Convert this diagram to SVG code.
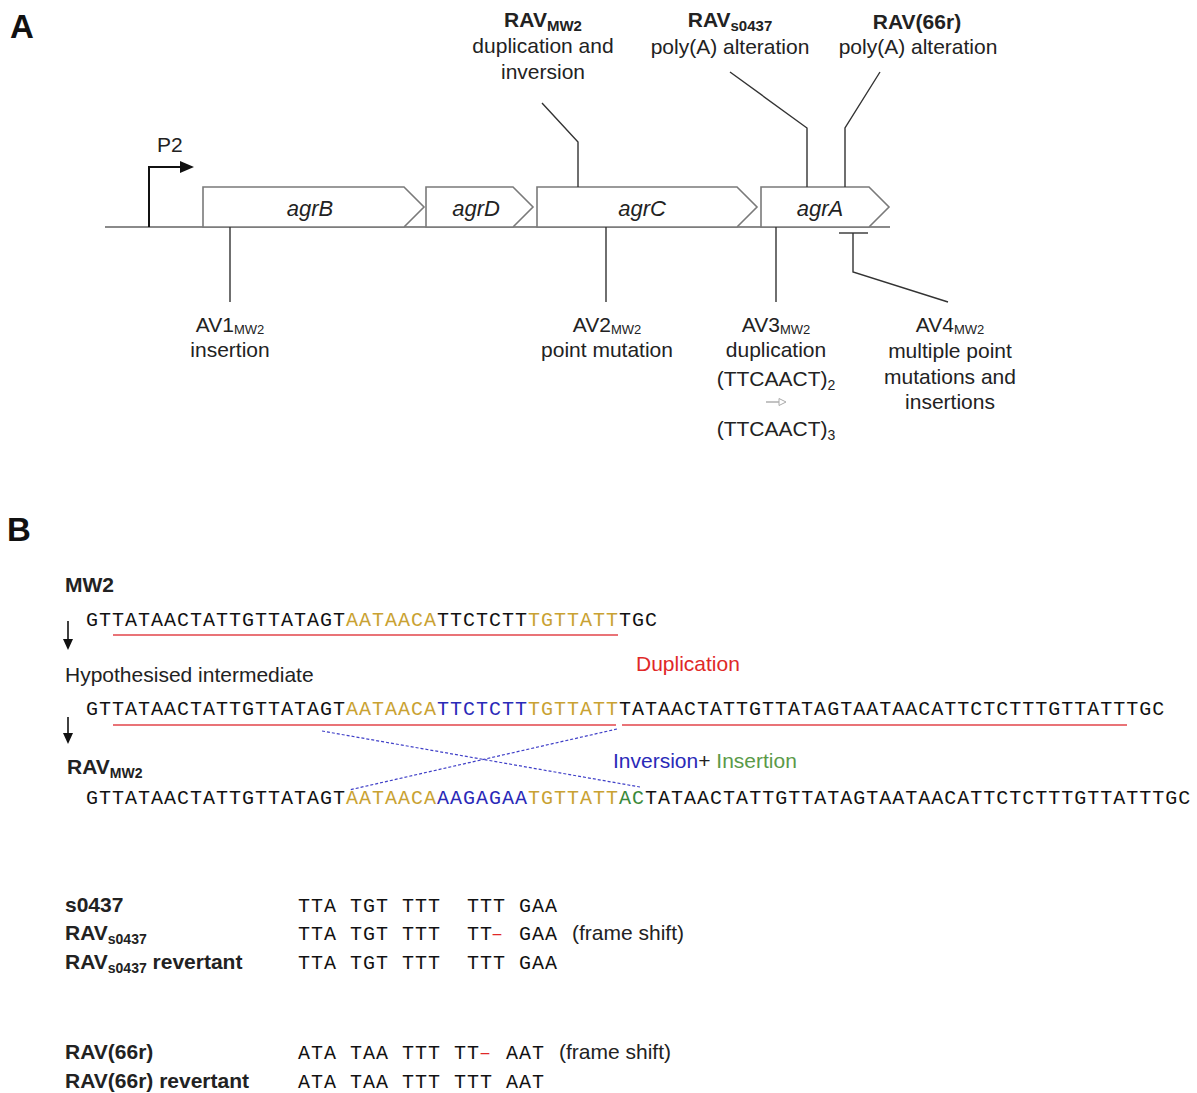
<svg xmlns="http://www.w3.org/2000/svg" width="1197" height="1093" viewBox="0 0 1197 1093">
<defs>
<style>
.sans{font-family:"Liberation Sans",Arial,sans-serif;fill:#222;font-size:21px}
.mid{text-anchor:middle}
.b{font-weight:bold}
.panel{font-family:"Liberation Sans",Arial,sans-serif;font-weight:bold;font-size:33px;fill:#111}
.gene{fill:#fff;stroke:#7a7a7a;stroke-width:1.6}
.gl{font-family:"Liberation Sans",Arial,sans-serif;font-style:italic;font-size:22px;fill:#222;text-anchor:middle}
.seq{font-family:"Liberation Mono","Courier New",monospace;font-size:20px;letter-spacing:1px;fill:#111}
.cod{font-family:"Liberation Mono","Courier New",monospace;font-size:20px;letter-spacing:1px;fill:#111}
.conn{fill:none;stroke:#333;stroke-width:1.4}
.gold{fill:#c9a232}
.blue{fill:#2a2ab8}
.green{fill:#3a8a3a}
.red{fill:#e02828}
.ul{stroke:#e2454a;stroke-width:1.6}
.dot{stroke:#4040c8;stroke-width:1.2;stroke-dasharray:3 2;fill:none}
</style>
</defs>
<rect width="1197" height="1093" fill="#fff"/>

<!-- Panel A -->
<text class="panel" x="10" y="38">A</text>

<g id="backbone"><line x1="105" y1="227" x2="890" y2="227" stroke="#8a8a8a" stroke-width="2"/></g>

<g id="promoter">
<path d="M149,227 V167 H182" fill="none" stroke="#111" stroke-width="2"/>
<polygon points="180,161 194,167 180,173" fill="#111"/>
<text class="sans" x="157" y="152">P2</text>
</g>

<g id="gene-agrB"><polygon class="gene" points="203,187 404,187 424,207 404,227 203,227"/><text class="gl" x="310" y="216">agrB</text></g>
<g id="gene-agrD"><polygon class="gene" points="426,187 513,187 533,207 513,227 426,227"/><text class="gl" x="476" y="216">agrD</text></g>
<g id="gene-agrC"><polygon class="gene" points="537,187 737,187 757,207 737,227 537,227"/><text class="gl" x="642" y="216">agrC</text></g>
<g id="gene-agrA"><polygon class="gene" points="761,187 869,187 889,207 869,227 761,227"/><text class="gl" x="820" y="216">agrA</text></g>

<g id="connectors">
<polyline class="conn" points="542,103 578,142 578,187"/>
<polyline class="conn" points="730,72 807,128 807,187"/>
<polyline class="conn" points="880,72 845,128 845,187"/>
<line class="conn" x1="230" y1="227" x2="230" y2="302"/>
<line class="conn" x1="606" y1="227" x2="606" y2="302"/>
<line class="conn" x1="776" y1="227" x2="776" y2="302"/>
<line class="conn" x1="839" y1="233" x2="868" y2="233" stroke="#777"/>
<polyline class="conn" points="853,233 853,272 948,302"/>
</g>

<g id="label-RAVMW2">
<text class="sans mid b" x="543" y="27">RAV<tspan font-size="15" dy="4">MW2</tspan></text>
<text class="sans mid" x="543" y="53">duplication and</text>
<text class="sans mid" x="543" y="79">inversion</text>
</g>
<g id="label-RAVs0437">
<text class="sans mid b" x="730" y="27">RAV<tspan font-size="15" dy="4">s0437</tspan></text>
<text class="sans mid" x="730" y="54">poly(A) alteration</text>
</g>
<g id="label-RAV66r">
<text class="sans mid b" x="917" y="29">RAV(66r)</text>
<text class="sans mid" x="918" y="54">poly(A) alteration</text>
</g>

<g id="label-AV1">
<text class="sans mid" x="230" y="332">AV1<tspan font-size="13" dy="2">MW2</tspan></text>
<text class="sans mid" x="230" y="357">insertion</text>
</g>
<g id="label-AV2">
<text class="sans mid" x="607" y="332">AV2<tspan font-size="13" dy="2">MW2</tspan></text>
<text class="sans mid" x="607" y="357">point mutation</text>
</g>
<g id="label-AV3">
<text class="sans mid" x="776" y="332">AV3<tspan font-size="13" dy="2">MW2</tspan></text>
<text class="sans mid" x="776" y="357">duplication</text>
<text class="sans mid" x="776" y="386">(TTCAACT)<tspan font-size="14" dy="4">2</tspan></text>
<line x1="766" y1="402" x2="780" y2="402" stroke="#aaa" stroke-width="1.4"/>
<polygon points="779,398.5 786,402 779,405.5" fill="#fff" stroke="#aaa" stroke-width="1"/>
<text class="sans mid" x="776" y="436">(TTCAACT)<tspan font-size="14" dy="4">3</tspan></text>
</g>
<g id="label-AV4">
<text class="sans mid" x="950" y="332">AV4<tspan font-size="13" dy="2">MW2</tspan></text>
<text class="sans mid" x="950" y="358">multiple point</text>
<text class="sans mid" x="950" y="384">mutations and</text>
<text class="sans mid" x="950" y="409">insertions</text>
</g>

<!-- Panel B -->
<text class="panel" x="7" y="541">B</text>

<g id="seq-MW2">
<text class="sans b" x="65" y="592" font-size="20">MW2</text>
<text class="seq" x="86" y="626">GTTATAACTATTGTTATAGT<tspan class="gold">AATAACA</tspan>TTCTCTT<tspan class="gold">TGTTATT</tspan>TGC</text>
<line class="ul" x1="113" y1="635" x2="618" y2="635"/>
</g>

<g id="arrows-B">
<line x1="68" y1="621" x2="68" y2="641" stroke="#111" stroke-width="1.6"/>
<polygon points="63,639 73,639 68,650" fill="#111"/>
<line x1="68" y1="717" x2="68" y2="735" stroke="#111" stroke-width="1.6"/>
<polygon points="63,733 73,733 68,744" fill="#111"/>
</g>

<g id="seq-intermediate">
<text class="sans" x="65" y="682">Hypothesised intermediate</text>
<text class="sans" x="636" y="671" style="fill:#e02828">Duplication</text>
<text class="seq" x="86" y="715">GTTATAACTATTGTTATAGT<tspan class="gold">AATAACA</tspan><tspan class="blue">TTCTCTT</tspan><tspan class="gold">TGTTATT</tspan>TATAACTATTGTTATAGTAATAACATTCTCTTTGTTATTTGC</text>
<line class="ul" x1="113" y1="725" x2="616" y2="725"/>
<line class="ul" x1="622" y1="725" x2="1127" y2="725"/>
</g>

<g id="inversion-lines">
<line class="dot" x1="322" y1="731" x2="640" y2="787"/>
<line class="dot" x1="617" y1="729" x2="349" y2="790"/>
</g>

<g id="seq-RAVMW2">
<text class="sans b" x="67" y="774" font-size="20">RAV<tspan font-size="14" dy="4">MW2</tspan></text>
<text class="sans" x="613" y="768"><tspan style="fill:#2a2ab8">Inversion</tspan>+ <tspan style="fill:#5a9a48">Insertion</tspan></text>
<text class="seq" x="86" y="804">GTTATAACTATTGTTATAGT<tspan class="gold">AATAACA</tspan><tspan class="blue">AAGAGAA</tspan><tspan class="gold">TGTTATT</tspan><tspan class="green">AC</tspan>TATAACTATTGTTATAGTAATAACATTCTCTTTGTTATTTGC</text>
</g>

<g id="table-s0437">
<text class="sans b" x="65" y="912">s0437</text>
<text class="cod" y="912"><tspan x="298">TTA</tspan><tspan x="350">TGT</tspan><tspan x="402">TTT</tspan><tspan x="467">TTT</tspan><tspan x="519">GAA</tspan></text>
<text class="sans b" x="65" y="940">RAV<tspan font-size="14" dy="4">s0437</tspan></text>
<text class="cod" y="940"><tspan x="298">TTA</tspan><tspan x="350">TGT</tspan><tspan x="402">TTT</tspan><tspan x="467">TT</tspan><tspan x="491" class="red">–</tspan><tspan x="519">GAA</tspan></text>
<text class="sans" x="572" y="940">(frame shift)</text>
<text class="sans b" x="65" y="969">RAV<tspan font-size="14" dy="4">s0437</tspan><tspan dy="-4"> revertant</tspan></text>
<text class="cod" y="969"><tspan x="298">TTA</tspan><tspan x="350">TGT</tspan><tspan x="402">TTT</tspan><tspan x="467">TTT</tspan><tspan x="519">GAA</tspan></text>
</g>

<g id="table-66r">
<text class="sans b" x="65" y="1059">RAV(66r)</text>
<text class="cod" y="1059"><tspan x="298">ATA</tspan><tspan x="350">TAA</tspan><tspan x="402">TTT</tspan><tspan x="454">TT</tspan><tspan x="479" class="red">–</tspan><tspan x="506">AAT</tspan></text>
<text class="sans" x="559" y="1059">(frame shift)</text>
<text class="sans b" x="65" y="1088">RAV(66r) revertant</text>
<text class="cod" y="1088"><tspan x="298">ATA</tspan><tspan x="350">TAA</tspan><tspan x="402">TTT</tspan><tspan x="454">TTT</tspan><tspan x="506">AAT</tspan></text>
</g>
</svg>
